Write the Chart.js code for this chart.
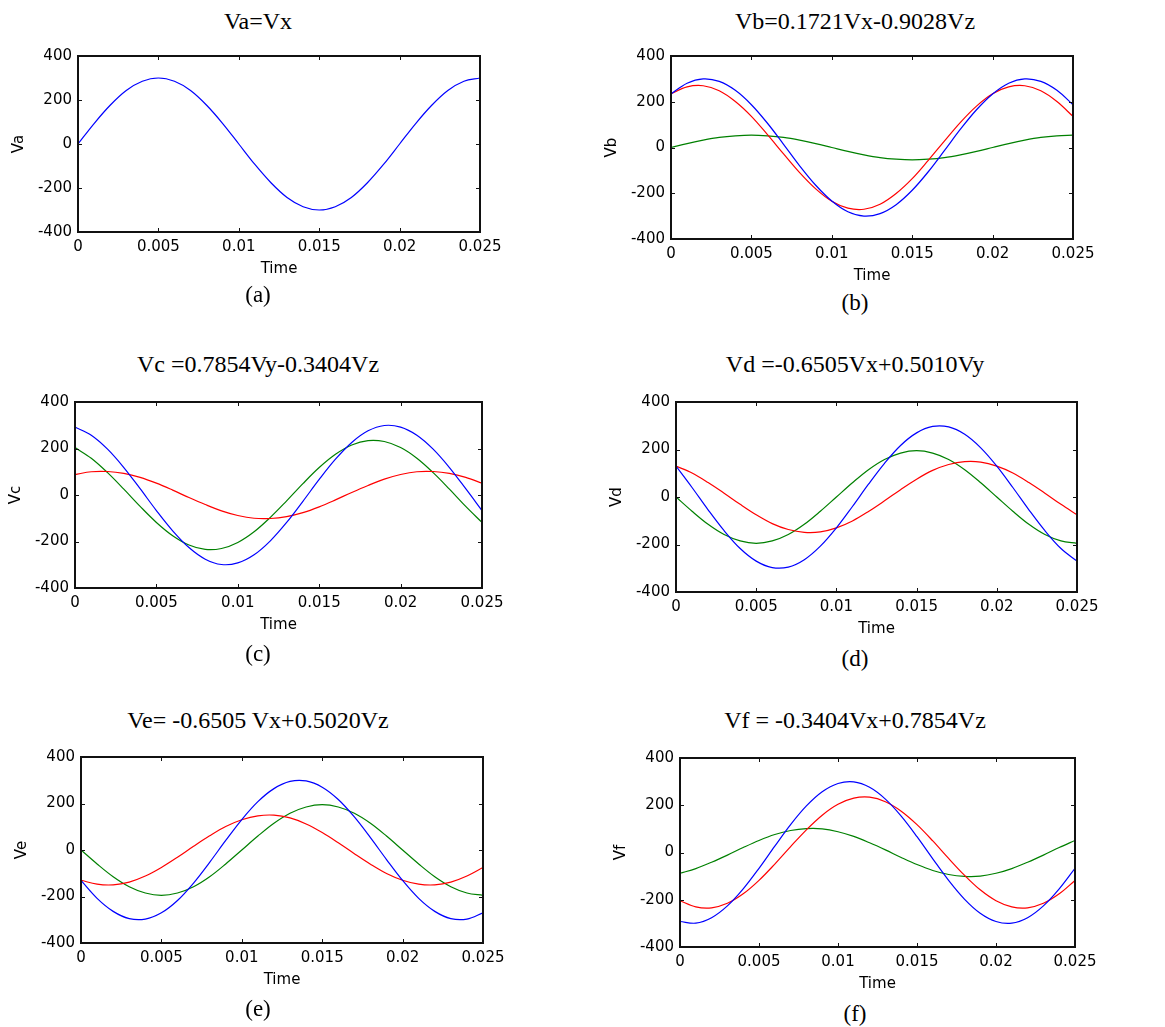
<!DOCTYPE html>
<html>
<head>
<meta charset="utf-8">
<script src="https://cdn.jsdelivr.net/npm/chart.js@4.4.1/dist/chart.umd.min.js"></script>
<style>
html,body{margin:0;padding:0;background:#fff;}
#fig{position:relative;width:1165px;height:1027px;overflow:hidden;background:#fff;}
#fig canvas{position:absolute;}
.ttl{position:absolute;font-family:"Liberation Serif","Times New Roman",serif;font-size:24px;color:#000;white-space:nowrap;transform:translate(-50%,-50%);line-height:1;}
.cap{position:absolute;font-family:"Liberation Serif","Times New Roman",serif;font-size:23px;color:#000;white-space:nowrap;transform:translate(-50%,-50%);line-height:1;}
</style>
</head>
<body>
<div id="fig"></div>
<script>
// ---------- data ----------
const timeS = [0,0.001,0.002,0.003,0.004,0.005,0.006,0.007,0.008,0.009,0.010,0.011,0.012,0.013,0.014,0.015,0.016,0.017,0.018,0.019,0.020,0.021,0.022,0.023,0.024,0.025];
const xTickValues = [0,0.005,0.01,0.015,0.02,0.025];
const xTickLabels = ['0','0.005','0.01','0.015','0.02','0.025'];
const yTickValues = [-400,-200,0,200,400];
const yTickLabels = ['-400','-200','0','200','400'];
const panelTitles = ['Va=Vx','Vb=0.1721Vx-0.9028Vz','Vc =0.7854Vy-0.3404Vz','Vd =-0.6505Vx+0.5010Vy','Ve= -0.6505 Vx+0.5020Vz','Vf = -0.3404Vx+0.7854Vz'];
const panelCaptions = ['(a)','(b)','(c)','(d)','(e)','(f)'];
const yAxisLabels = ['Va','Vb','Vc','Vd','Ve','Vf'];
const xAxisLabel = 'Time';

const vaBlue  = [0,93,176,243,285,300,285,243,176,93,0,-93,-176,-243,-285,-300,-285,-243,-176,-93,0,93,176,243,285,300];

const vbBlue  = [234,281,300,289,250,187,106,14,-80,-165,-234,-281,-300,-289,-250,-187,-106,-14,80,165,234,281,300,289,250,187];
const vbRed   = [235,265,270,248,201,136,56,-28,-110,-181,-235,-265,-270,-248,-201,-136,-56,28,110,181,235,265,270,248,201,136];
const vbGreen = [0,17,32,44,51,54,51,44,32,17,0,-17,-32,-44,-51,-54,-51,-44,-32,-17,0,17,32,44,51,54];

const vcBlue  = [292,257,197,118,27,-67,-154,-226,-276,-299,-292,-257,-197,-118,-27,67,154,226,276,299,292,257,197,118,27,-67];
const vcRed   = [88,100,101,93,76,51,21,-11,-41,-68,-88,-100,-101,-93,-76,-51,-21,11,41,68,88,100,101,93,76,51];
const vcGreen = [204,158,96,25,-49,-118,-175,-215,-234,-230,-204,-158,-96,-25,49,118,175,215,234,230,204,158,96,25,-49,-118];

const vdBlue  = [130,40,-54,-142,-217,-270,-297,-295,-264,-207,-130,-40,54,142,217,270,297,295,264,207,130,40,-54,-142,-217,-270];
const vdRed   = [130,101,61,16,-31,-75,-112,-137,-149,-147,-130,-101,-61,-16,31,75,112,137,149,147,130,101,61,16,-31,-75];
const vdGreen = [0,-60,-115,-158,-185,-195,-185,-158,-115,-60,0,60,115,158,185,195,185,158,115,60,0,-60,-115,-158,-185,-195];

const veBlue  = [-131,-208,-264,-295,-297,-270,-217,-142,-53,41,131,208,264,295,297,270,217,142,53,-41,-131,-208,-264,-295,-297,-270];
const veRed   = [-130,-147,-150,-138,-112,-75,-31,16,61,101,130,147,150,138,112,75,31,-16,-61,-101,-130,-147,-150,-138,-112,-75];
const veGreen = [0,-60,-115,-158,-185,-195,-185,-158,-115,-60,0,60,115,158,185,195,185,158,115,60,0,-60,-115,-158,-185,-195];

const vfBlue  = [-292,-299,-276,-226,-154,-67,27,118,197,257,292,299,276,226,154,67,-27,-118,-197,-257,-292,-299,-276,-226,-154,-67];
const vfRed   = [-204,-230,-234,-215,-175,-118,-49,25,96,158,204,230,234,215,175,118,49,-25,-96,-158,-204,-230,-234,-215,-175,-118];
const vfGreen = [-88,-68,-41,-11,21,51,76,93,101,100,88,68,41,11,-21,-51,-76,-93,-101,-100,-88,-68,-41,-11,21,51];

const panelSeries = [
  [vaBlue],
  [vbBlue, vbRed, vbGreen],
  [vcBlue, vcRed, vcGreen],
  [vdBlue, vdRed, vdGreen],
  [veBlue, veRed, veGreen],
  [vfBlue, vfRed, vfGreen]
];

// ---------- layout & style ----------
const seriesColors = ['#0000ff', '#ff0000', '#008000'];
const panelBoxes = [
  {l:78,  t:53,  r:480,  b:232, cx:258, ty:21,  cy:294},
  {l:671, t:53,  r:1073, b:239, cx:855, ty:21,  cy:302},
  {l:75,  t:399, r:482,  b:588, cx:258, ty:364, cy:653},
  {l:676, t:399, r:1077, b:592, cx:855, ty:364, cy:658},
  {l:81,  t:754, r:483,  b:943, cx:258, ty:720, cy:1008},
  {l:680, t:755, r:1075, b:947, cx:855, ty:720, cy:1013}
];
const Y_W = 78, X_H = 50, PAD_T = 12, PAD_R = 35;
const tickFont = {family:'"DejaVu Sans", sans-serif', size:15};
const titleFont = {family:'"DejaVu Sans", sans-serif', size:15};

const framePlugin = {
  id: 'matlabFrame',
  afterDraw(chart) {
    const {ctx, chartArea: a, scales} = chart;
    const x = scales.x, y = scales.y;
    const tl = 4;
    ctx.save();
    ctx.strokeStyle = '#111';
    ctx.lineWidth = 1;
    ctx.beginPath();
    x.ticks.forEach(t => {
      const px = Math.round(x.getPixelForValue(t.value)) + 0.5;
      ctx.moveTo(px, a.bottom); ctx.lineTo(px, a.bottom - tl);
      ctx.moveTo(px, a.top); ctx.lineTo(px, a.top + tl);
    });
    y.ticks.forEach(t => {
      const py = Math.round(y.getPixelForValue(t.value)) + 0.5;
      ctx.moveTo(a.left, py); ctx.lineTo(a.left + tl, py);
      ctx.moveTo(a.right, py); ctx.lineTo(a.right - tl, py);
    });
    ctx.stroke();
    ctx.lineWidth = 2;
    ctx.strokeRect(a.left, a.top, a.right - a.left, a.bottom - a.top);
    ctx.restore();
  }
};

const fig = document.getElementById('fig');

panelBoxes.forEach((p, i) => {
  const cl = p.l - Y_W, ct = p.t - PAD_T;
  const cw = p.r - p.l + Y_W + PAD_R, ch = p.b - p.t + PAD_T + X_H;
  const cv = document.createElement('canvas');
  cv.width = cw; cv.height = ch;
  cv.style.left = cl + 'px'; cv.style.top = ct + 'px';
  cv.style.width = cw + 'px'; cv.style.height = ch + 'px';
  fig.appendChild(cv);

  const t = document.createElement('div');
  t.className = 'ttl'; t.textContent = panelTitles[i];
  t.style.left = p.cx + 'px'; t.style.top = p.ty + 'px';
  fig.appendChild(t);

  const c = document.createElement('div');
  c.className = 'cap'; c.textContent = panelCaptions[i];
  c.style.left = p.cx + 'px'; c.style.top = p.cy + 'px';
  fig.appendChild(c);

  new Chart(cv, {
    type: 'line',
    data: {
      datasets: panelSeries[i].map((s, k) => ({
        data: s.map((v, j) => ({x: timeS[j], y: v})),
        borderColor: seriesColors[k],
        borderWidth: 1.2,
        pointRadius: 0,
        tension: 0.35,
        fill: false
      }))
    },
    options: {
      responsive: false,
      animation: false,
      devicePixelRatio: 1,
      layout: {padding: {top: PAD_T, right: PAD_R, bottom: 0, left: 0}},
      plugins: {legend: {display: false}, tooltip: {enabled: false}},
      scales: {
        x: {
          type: 'linear', min: 0, max: 0.025,
          afterBuildTicks: s => { s.ticks = xTickValues.map(v => ({value: v})); },
          afterFit: s => { s.height = X_H; },
          grid: {display: false, drawTicks: false},
          border: {display: false},
          ticks: {autoSkip: false, maxRotation: 0, padding: 6, color: '#000', font: tickFont,
                  callback: (v, idx) => xTickLabels[idx]},
          title: {display: true, text: xAxisLabel, color: '#000', font: titleFont, padding: {top: 0, bottom: 4}}
        },
        y: {
          type: 'linear', min: -400, max: 400,
          afterBuildTicks: s => { s.ticks = yTickValues.map(v => ({value: v})); },
          afterFit: s => { s.width = Y_W; },
          grid: {display: false, drawTicks: false},
          border: {display: false},
          ticks: {padding: 6, color: '#000', font: tickFont,
                  callback: (v, idx) => yTickLabels[idx]},
          title: {display: true, text: yAxisLabels[i], color: '#000', font: titleFont, padding: {top: 10, bottom: 0}}
        }
      }
    },
    plugins: [framePlugin]
  });
});
</script>
</body>
</html>
